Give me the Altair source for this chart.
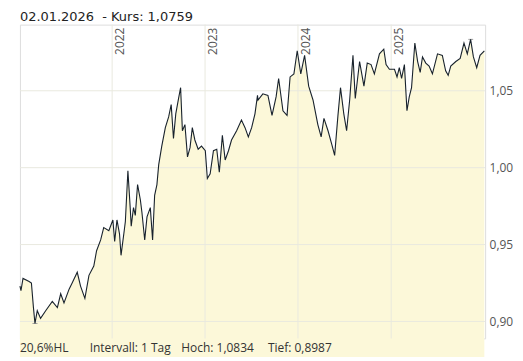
import altair as alt
import pandas as pd

# ---- data ----
dates = [
    "2021-01-04", "2021-01-08", "2021-01-16", "2021-02-09", "2021-02-18", "2021-02-26", "2021-03-04",
    "2021-03-13", "2021-03-26", "2021-04-15", "2021-05-11", "2021-05-31", "2021-06-13", "2021-06-26",
    "2021-07-16", "2021-07-28", "2021-08-17", "2021-08-30", "2021-09-16", "2021-10-02", "2021-10-21",
    "2021-11-01", "2021-11-17", "2021-11-29", "2021-12-19", "2022-01-04", "2022-01-11", "2022-01-20",
    "2022-01-30", "2022-02-05", "2022-02-16", "2022-02-22", "2022-03-04", "2022-03-13", "2022-03-17",
    "2022-03-26", "2022-04-02", "2022-04-11", "2022-04-22", "2022-04-28", "2022-05-09", "2022-05-18",
    "2022-05-31", "2022-06-09", "2022-06-17", "2022-06-26", "2022-07-03", "2022-07-15", "2022-07-29",
    "2022-08-11", "2022-08-21", "2022-08-30", "2022-09-08", "2022-09-19", "2022-09-27", "2022-10-04",
    "2022-10-14", "2022-10-24", "2022-11-03", "2022-11-12", "2022-11-22", "2022-12-05", "2022-12-18",
    "2023-01-02", "2023-01-10", "2023-01-21", "2023-02-03", "2023-02-16", "2023-02-26", "2023-03-10",
    "2023-03-21", "2023-04-03", "2023-04-15", "2023-05-05", "2023-05-24", "2023-06-07", "2023-06-20",
    "2023-07-03", "2023-07-16", "2023-07-26", "2023-07-28", "2023-08-16", "2023-09-05", "2023-09-21",
    "2023-10-07", "2023-10-17", "2023-11-03", "2023-11-19", "2023-12-01", "2023-12-16", "2023-12-29",
    "2024-01-12", "2024-01-27", "2024-02-12", "2024-02-29", "2024-03-19", "2024-04-01", "2024-04-12",
    "2024-04-28", "2024-05-13", "2024-05-24", "2024-06-06", "2024-06-16", "2024-06-29", "2024-07-10",
    "2024-07-22", "2024-08-04", "2024-08-13", "2024-08-30", "2024-09-16", "2024-09-29", "2024-10-14",
    "2024-10-27", "2024-11-16", "2024-12-03", "2024-12-12", "2024-12-25", "2025-01-14", "2025-01-24",
    "2025-02-02", "2025-02-11", "2025-02-22", "2025-03-04", "2025-03-13", "2025-03-22", "2025-04-04",
    "2025-04-15", "2025-04-25", "2025-05-04", "2025-05-17", "2025-05-30", "2025-06-12", "2025-07-02",
    "2025-07-21", "2025-08-03", "2025-08-13", "2025-08-23", "2025-09-12", "2025-09-29", "2025-10-14",
    "2025-10-27", "2025-11-09", "2025-11-20", "2025-12-03", "2025-12-16", "2026-01-02",
]
kurs = [
    0.923, 0.920, 0.928, 0.926, 0.925, 0.909, 0.8987,
    0.907, 0.902, 0.907, 0.913, 0.909, 0.918, 0.912,
    0.921, 0.925, 0.932, 0.923, 0.915, 0.930, 0.936,
    0.946, 0.953, 0.961, 0.959, 0.966, 0.952, 0.966,
    0.957, 0.943, 0.957, 0.965, 0.998, 0.974, 0.962,
    0.974, 0.969, 0.989, 0.979, 0.971, 0.953, 0.968,
    0.974, 0.953, 0.982, 0.989, 1.002, 1.014, 1.026,
    1.033, 1.041, 1.019, 1.035, 1.045, 1.052, 1.024,
    1.028, 1.007, 1.013, 1.026, 1.018, 1.012, 1.014,
    1.011, 0.993, 0.996, 1.011, 1.012, 0.997, 1.021,
    1.005, 1.011, 1.018, 1.024, 1.031, 1.026, 1.020,
    1.026, 1.035, 1.047, 1.044, 1.048, 1.047, 1.034,
    1.046, 1.058, 1.037, 1.034, 1.059, 1.061, 1.076,
    1.061, 1.073, 1.053, 1.044, 1.028, 1.020, 1.032,
    1.024, 1.015, 1.008, 1.034, 1.052, 1.035, 1.024,
    1.044, 1.073, 1.045, 1.069, 1.053, 1.068, 1.067,
    1.061, 1.074, 1.077, 1.067, 1.064, 1.064, 1.059,
    1.065, 1.058, 1.067, 1.037, 1.046, 1.052, 1.081,
    1.069, 1.062, 1.072, 1.068, 1.066, 1.061, 1.074,
    1.073, 1.063, 1.060, 1.066, 1.069, 1.071, 1.081,
    1.074, 1.0834, 1.072, 1.065, 1.073, 1.0759,
]
year_dates = ["2022-01-01", "2023-01-01", "2024-01-01", "2025-01-01"]
year_labels = ["2022", "2023", "2024", "2025"]
y_ticks = [0.90, 0.95, 1.00, 1.05]
hoch_span = ["2025-10-31", "2025-11-19"]
hoch_value = 1.0834
tief_span = ["2021-02-22", "2021-03-14"]
tief_value = 0.8987
title_text = ["02.01.2026\u00a0\u00a0- Kurs: 1,0759"]
footer_texts = ["20,6%HL", "Intervall: 1 Tag", "Hoch: 1,0834", "Tief: 0,8987"]

W, H = 467, 315
FONT = "Open Sans"

df = pd.DataFrame({"date": dates, "kurs": kurs})
years_df = pd.DataFrame({"date": year_dates, "label": year_labels})
ticks_df = pd.DataFrame({"v": y_ticks})
hl_df = pd.DataFrame({
    "d1": [hoch_span[0], tief_span[0]],
    "d2": [hoch_span[1], tief_span[1]],
    "v": [hoch_value, tief_value],
})

xscale = alt.Scale(domain=[alt.DateTime(year=2021, month=1, date=4, utc=True),
                           alt.DateTime(year=2026, month=1, date=5, utc=True)])
yscale = alt.Scale(domain=[0.889, 1.093], nice=False, zero=False)

x_enc = alt.X("date:T", scale=xscale, axis=None)

area = alt.Chart(df).mark_area(color="#FCF8D9", opacity=1).encode(
    x=x_enc,
    y=alt.Y("kurs:Q", scale=yscale, axis=alt.Axis(
        orient="right", values=y_ticks, grid=False, domain=False, ticks=False,
        labelExpr="replace(format(datum.value, '.2f'), '.', ',')",
        labelFont=FONT, labelFontSize=12, labelColor="#555555", labelPadding=4,
        title=None)),
    y2=alt.value(H),
)

hgrid = alt.Chart(ticks_df).mark_rule(color="#E9E9DF", strokeWidth=1).encode(
    y=alt.Y("v:Q", scale=yscale)
)

vgrid = alt.Chart(years_df).mark_rule(color="#E9E9DF", strokeWidth=1).encode(
    x=alt.X("date:T", scale=xscale, axis=None)
)

hl = alt.Chart(hl_df).mark_rule(color="#A0A0A0", strokeWidth=1).encode(
    x=alt.X("d1:T", scale=xscale, axis=None),
    x2="d2:T",
    y=alt.Y("v:Q", scale=yscale),
)

line = alt.Chart(df).mark_line(color="#18222C", strokeWidth=1.1).encode(
    x=x_enc,
    y=alt.Y("kurs:Q", scale=yscale),
)

year_text = alt.Chart(years_df).mark_text(
    angle=270, align="right", baseline="top", font=FONT, fontSize=12,
    color="#555555", dy=3,
).encode(
    x=alt.X("date:T", scale=xscale, axis=None),
    y=alt.value(3),
    text="label:N",
)

title = alt.Chart(pd.DataFrame({"t": title_text})).mark_text(
    align="left", baseline="alphabetic", font="DejaVu Sans", fontSize=13, color="#222222"
).encode(x=alt.value(0), y=alt.value(-4), text="t:N")

footer_x = [0, 70, 162, 249]
footers = []
for txt, fx in zip(footer_texts, footer_x):
    footers.append(
        alt.Chart(pd.DataFrame({"t": [txt]})).mark_text(
            align="left", baseline="alphabetic", font=FONT, fontSize=12, color="#333333"
        ).encode(x=alt.value(fx), y=alt.value(329), text="t:N")
    )

chart = alt.layer(area, hgrid, vgrid, hl, line, year_text, title, *footers).properties(
    width=W, height=H,
    autosize=alt.AutoSizeParams(type="none"),
    padding={"left": 12, "top": 16, "right": 30, "bottom": 18},
).configure_view(stroke=None).configure(background="white")

chart.save("out.html", embed_options={"renderer": "svg", "actions": False})
